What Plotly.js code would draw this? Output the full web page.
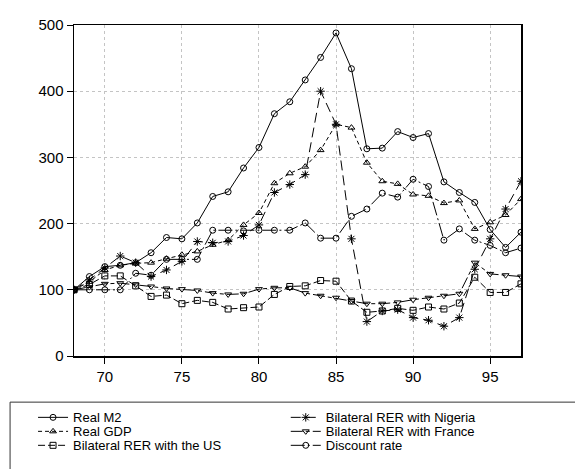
<!DOCTYPE html>
<html>
<head>
<meta charset="utf-8">
<script src="https://cdn.plot.ly/plotly-3.0.1.min.js"></script>
<style>
html,body{margin:0;padding:0;background:#fff;}
#chart{width:575px;height:469px;}
</style>
</head>
<body>
<div id="chart"></div>
<script>
const years = [68,69,70,71,72,73,74,75,76,77,78,79,80,81,82,83,84,85,86,87,88,89,90,91,92,93,94,95,96,97];
const realM2 = [100,120,135,137,141,156,179,177,201,241,248,284,315,366,384,417,451,488,434,313,314,339,330,336,263,247,232,191,164,187];
const realGDP = [100,112,130,137,140,141,147,153,158,168,175,198,216,261,276,286,311,350,345,292,264,260,244,242,231,235,192,202,213,237];
const rerUS = [100,108,121,121,106,90,92,79,84,81,71,73,74,93,105,106,114,113,83,66,68,72,69,74,71,80,119,96,96,109];
const rerNigeria = [100,115,133,151,141,120,130,143,173,171,173,182,198,247,259,274,400,350,177,52,68,70,58,54,45,58,131,177,222,264];
const rerFrance = [100,104,109,110,108,105,102,101,99,95,93,94,101,103,103,95,91,88,83,79,79,81,85,88,91,94,141,124,122,120];
const discountRate = [100,100,100,100,125,122,146,146,146,190,190,189,190,190,190,201,178,178,211,222,246,240,267,256,175,192,175,167,156,163];
const xTicks = [70,75,80,85,90,95];
const yTicks = [0,100,200,300,400,500];

// plot area in pixels
const W = 575, H = 469, L = 74, R = 53.5, T = 25, B = 112.5;
const PW = W - L - R, PH = H - T - B;
const px2x = p => (p - L) / PW;
const py2y = p => (H - B - p) / PH;

function tr(name, y, dash, symbol, msize, leg) {
  return {
    x: years, y: y, name: name, type: 'scatter', mode: 'lines+markers',
    legend: leg,
    line: {color: '#000', width: 1, dash: dash},
    marker: {symbol: symbol, size: msize, color: '#000', line: {color: '#000', width: 1}}
  };
}

const data = [
  tr('Real M2', realM2, 'solid', 'circle-open', 6, 'legend'),
  tr('Real GDP', realGDP, '4px,3px', 'triangle-up-open', 6, 'legend2'),
  tr('Bilateral RER with the US', rerUS, '7px,3px', 'square-open', 6, 'legend3'),
  tr('Bilateral RER with Nigeria', rerNigeria, '10px,5px', 'asterisk-open', 7, 'legend4'),
  tr('Bilateral RER with France', rerFrance, '12px,3px,4px,3px', 'triangle-down-open', 6, 'legend5'),
  tr('Discount rate', discountRate, '14px,3px,2px,3px', 'circle-open', 6, 'legend6')
];

const legFont = {family: 'Liberation Sans, Arial, sans-serif', size: 13, color: '#000'};
function leg(xp, yp) {
  return {x: px2x(xp), xanchor: 'left', y: py2y(yp), yanchor: 'middle',
    borderwidth: 0, bgcolor: 'rgba(0,0,0,0)', font: legFont, orientation: 'v'};
}
const rows = [418, 432, 446];
const tickFont = {family: 'Liberation Sans, Arial, sans-serif', size: 15, color: '#000'};

const layout = {
  width: W, height: H,
  margin: {l: L, r: R, t: T, b: B, autoexpand: false},
  paper_bgcolor: '#fff', plot_bgcolor: '#fff',
  font: {family: 'Liberation Sans, Arial, sans-serif', size: 13, color: '#000'},
  showlegend: true,
  xaxis: {
    range: [68, 97], tickvals: xTicks, ticktext: xTicks.map(String), tickfont: tickFont,
    showline: true, mirror: true, linecolor: '#000', linewidth: 1.5,
    ticks: 'outside', ticklen: 6, tickwidth: 1, tickcolor: '#000',
    showgrid: true, gridcolor: '#c4c4c4', griddash: 'dot', gridwidth: 1,
    zeroline: false, fixedrange: true
  },
  yaxis: {
    range: [0, 500], tickvals: yTicks, tickfont: tickFont,
    showline: true, mirror: true, linecolor: '#000', linewidth: 1.5,
    ticks: 'outside', ticklen: 6, tickwidth: 1, tickcolor: '#000',
    showgrid: true, gridcolor: '#c4c4c4', griddash: 'dot', gridwidth: 1,
    zeroline: false, fixedrange: true
  },
  legend: leg(33, rows[0]),
  legend2: leg(33, rows[1]),
  legend3: leg(33, rows[2]),
  legend4: leg(286, rows[0]),
  legend5: leg(286, rows[1]),
  legend6: leg(286, rows[2]),
  shapes: [{
    type: 'rect', xref: 'paper', yref: 'paper', layer: 'below',
    x0: px2x(10), x1: px2x(590), y0: py2y(402.7), y1: py2y(480),
    line: {color: '#333', width: 1}, fillcolor: 'rgba(0,0,0,0)'
  }]
};

Plotly.newPlot('chart', data, layout, {staticPlot: true, displayModeBar: false});
</script>
</body>
</html>
